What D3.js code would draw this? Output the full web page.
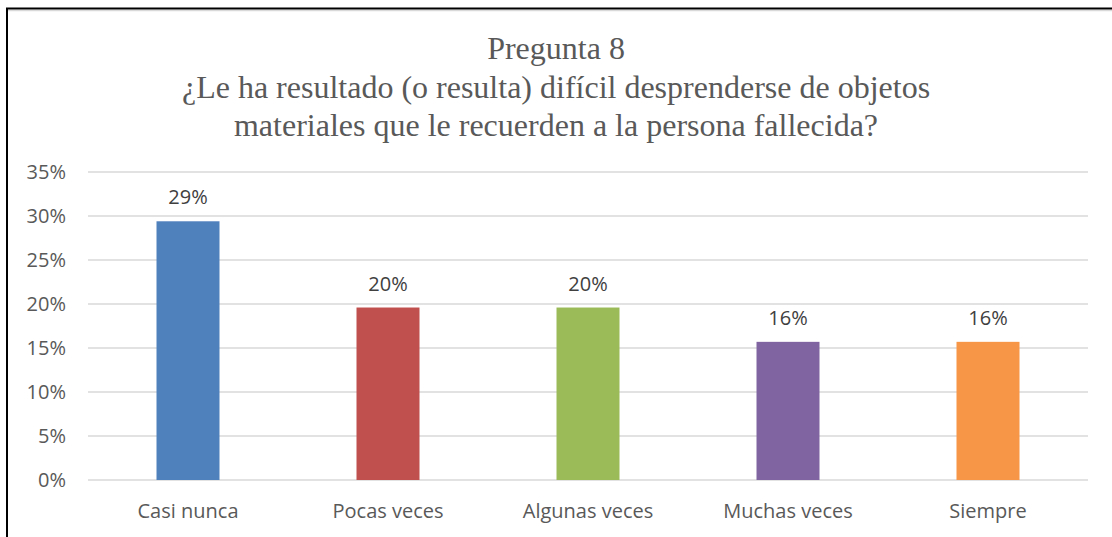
<!DOCTYPE html>
<html>
<head>
<meta charset="utf-8">
<script src="https://cdn.jsdelivr.net/npm/d3@7"></script>
<style>
  body { margin: 0; background: #fff; }
  svg { display: block; }
</style>
</head>
<body>
<svg></svg>
<script>
const width = 1112;
const height = 537;
const margin = ({top: 172, right: 24, bottom: 57, left: 88});

const categories = ["Casi nunca", "Pocas veces", "Algunas veces", "Muchas veces", "Siempre"];
const values = [0.294, 0.196, 0.196, 0.157, 0.157];
const valueLabels = ["29%", "20%", "20%", "16%", "16%"];
const colors = ["#4F81BD", "#C0504D", "#9BBB59", "#8064A2", "#F79646"];
const yTicks = [0, 0.05, 0.10, 0.15, 0.20, 0.25, 0.30, 0.35];
const titleLines = [
    "Pregunta 8",
    "¿Le ha resultado (o resulta) difícil desprenderse de objetos",
    "materiales que le recuerden a la persona fallecida?"
];

const svg = d3.select("svg")
    .attr("width", width)
    .attr("height", height)
    .attr("viewBox", [0, 0, width, height]);

// frame
svg.append("line")
    .attr("x1", 8).attr("x2", width).attr("y1", 10.5).attr("y2", 10.5)
    .attr("stroke", "#d9d9d9").attr("stroke-width", 1.5);
svg.append("line")
    .attr("x1", 6).attr("x2", width).attr("y1", 8.5).attr("y2", 8.5)
    .attr("stroke", "#000").attr("stroke-width", 2);
svg.append("line")
    .attr("x1", 7).attr("x2", 7).attr("y1", 8).attr("y2", height)
    .attr("stroke", "#000").attr("stroke-width", 2);

const x = d3.scaleBand()
    .domain(categories)
    .range([margin.left, width - margin.right])
    .paddingInner(0.685)
    .paddingOuter(0.3425);

const y = d3.scaleLinear()
    .domain([0, 0.35])
    .range([height - margin.bottom, margin.top]);

// title
svg.append("text")
    .attr("font-family", "'Liberation Serif', 'Times New Roman', serif")
    .attr("font-size", 32)
    .attr("fill", "#595959")
    .attr("text-anchor", "middle")
    .selectAll("tspan")
    .data(titleLines)
    .join("tspan")
    .attr("x", 556)
    .attr("y", (d, i) => 59 + i * 38.5)
    .text(d => d);

// gridlines
svg.append("g")
    .selectAll("line")
    .data(yTicks)
    .join("line")
    .attr("x1", margin.left)
    .attr("x2", width - margin.right)
    .attr("y1", d => y(d))
    .attr("y2", d => y(d))
    .attr("stroke", "#d9d9d9")
    .attr("stroke-width", 1.5);

const yAxis = g => g
    .attr("transform", `translate(${margin.left},0)`)
    .call(d3.axisLeft(y).tickValues(yTicks).tickFormat(d3.format(".0%")).tickSize(0).tickPadding(22))
    .call(g => g.select(".domain").remove())
    .call(g => g.selectAll("text")
        .attr("font-family", "'Open Sans', sans-serif")
        .attr("font-size", 20)
        .attr("fill", "#595959"));

const xAxis = g => g
    .attr("transform", `translate(0,${height - margin.bottom})`)
    .call(d3.axisBottom(x).tickSize(0).tickPadding(24))
    .call(g => g.select(".domain").remove())
    .call(g => g.selectAll("text")
        .attr("font-family", "'Open Sans', sans-serif")
        .attr("font-size", 20)
        .attr("fill", "#595959"));

svg.append("g").call(yAxis);
svg.append("g").call(xAxis);

// bars
svg.append("g")
    .selectAll("rect")
    .data(values)
    .join("rect")
    .attr("x", (d, i) => x(categories[i]))
    .attr("y", d => y(d))
    .attr("width", x.bandwidth())
    .attr("height", d => y(0) - y(d))
    .attr("fill", (d, i) => colors[i]);

// value labels
svg.append("g")
    .selectAll("text")
    .data(values)
    .join("text")
    .attr("x", (d, i) => x(categories[i]) + x.bandwidth() / 2)
    .attr("y", d => y(d) - 17)
    .attr("text-anchor", "middle")
    .attr("font-family", "'Open Sans', sans-serif")
    .attr("font-size", 20)
    .attr("fill", "#404040")
    .text((d, i) => valueLabels[i]);
</script>
</body>
</html>
